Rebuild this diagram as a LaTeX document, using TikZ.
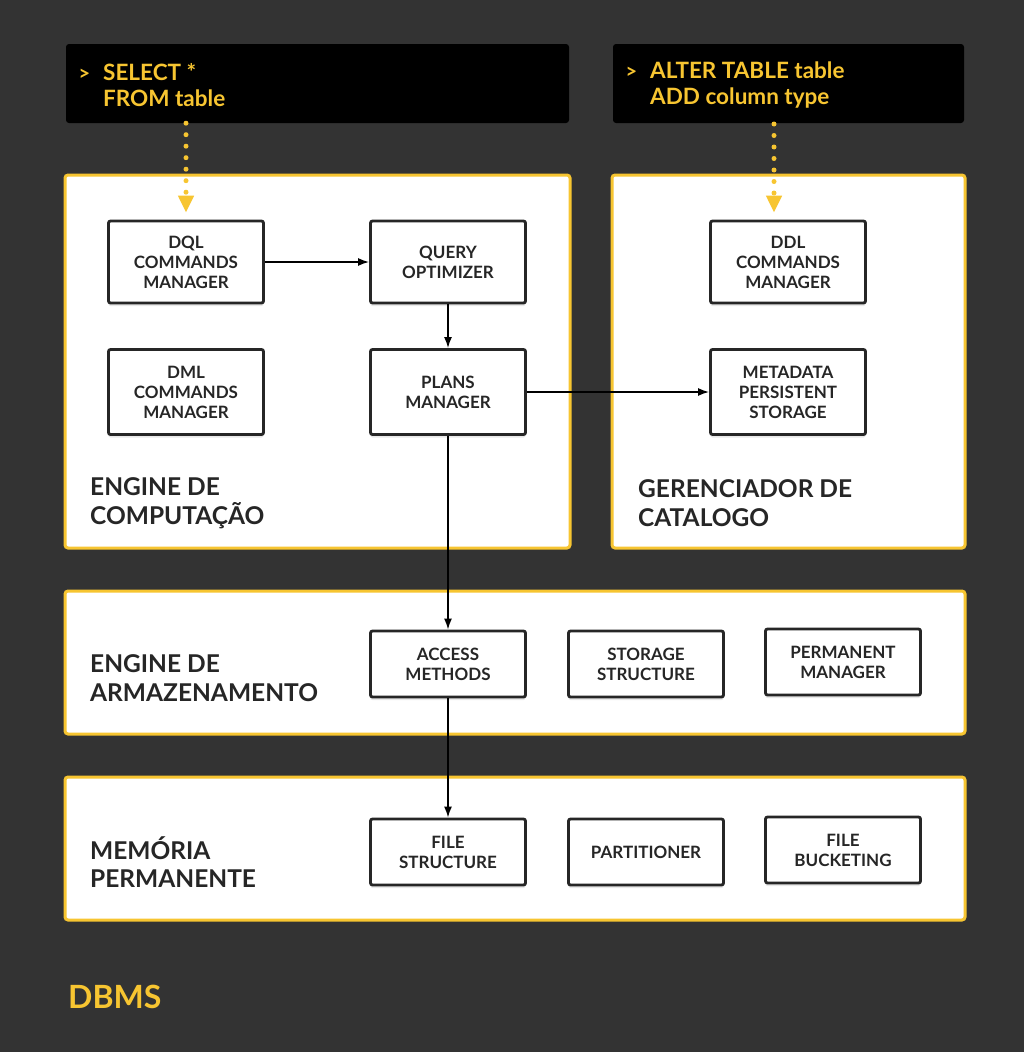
\documentclass[tikz,border=0pt]{standalone}
\usepackage{fontspec}
\setmainfont{Lato}
\usetikzlibrary{arrows.meta,shadows}
\definecolor{fond}{HTML}{333333}
\definecolor{jaune}{HTML}{F7C531}
\definecolor{trait}{HTML}{262626}

\begin{document}
\begin{tikzpicture}[x=1pt,y=-1pt]
\tikzset{boite/.style={draw=trait, line width=2.8pt, rounded corners=2pt, fill=white, minimum width=155pt, minimum height=82pt, align=center, inner sep=0pt, text=trait, font=\bfseries\fontsize{17}{20}\selectfont, drop shadow={opacity=0.18, shadow xshift=0pt, shadow yshift=-3pt}}}
\tikzset{cadre/.style={draw=jaune, line width=3pt, rounded corners=3pt, fill=white}}
\tikzset{code/.style={fill=black, rounded corners=3pt, inner sep=0pt}}
\tikzset{codetxt/.style={anchor=west, align=left, inner sep=0pt, text=jaune, font=\bfseries\fontsize{22.5}{26}\selectfont}}
\tikzset{titre/.style={anchor=west, align=left, inner sep=0pt, text=trait, font=\bfseries\fontsize{24.5}{28.5}\selectfont}}
\tikzset{fleche/.style={-{Latex[length=11pt,width=8pt]}, line width=1.6pt, draw=black}}
\tikzset{pointille/.style={jaune, line width=5pt, line cap=round, dash pattern=on 0pt off 11.5pt, -{Triangle[length=17pt,width=15pt]}}}
\useasboundingbox (0,0) rectangle (1024,1052);
\fill[fond] (0,0) rectangle (1024,1052);
% commandes
\node[code, minimum width=503pt, minimum height=79pt] (C1) at (317.5,83.5) {};
\node[code, minimum width=351pt, minimum height=79pt] (C2) at (788.5,83.5) {};
\node[codetxt] (S1) at (103,85) {\llap{\fontsize{20}{20}\selectfont>\hspace{13pt}}SELECT *\\FROM table};
\node[codetxt] (S2) at (650,85) {\llap{\fontsize{20}{20}\selectfont>\hspace{13pt}}ALTER TABLE table\\ADD column type};
% cadres
\node[cadre, minimum width=505pt, minimum height=373pt] (EC) at (317.5,361.5) {};
\node[cadre, minimum width=353pt, minimum height=373pt] (GC) at (788.5,361.5) {};
\node[cadre, minimum width=900pt, minimum height=143pt] (EA) at (515,662.5) {};
\node[cadre, minimum width=900pt, minimum height=143pt] (MP) at (515,848.5) {};
\node[titre] (T1) at (90,503) {ENGINE DE\\COMPUTAÇÃO};
\node[titre] (T2) at (638,503) {GERENCIADOR DE\\CATALOGO};
\node[titre] (T3) at (90,678) {ENGINE DE\\ARMAZENAMENTO};
\node[titre] (T4) at (90,862) {MEMÓRIA\\PERMANENTE};
% boites
\node[boite] (DQL) at (186,262) {DQL\\COMMANDS\\MANAGER};
\node[boite] (QO) at (448,262) {QUERY\\OPTIMIZER};
\node[boite, minimum height=85pt] (DML) at (186,392) {DML\\COMMANDS\\MANAGER};
\node[boite, minimum height=85pt] (PM) at (448,392) {PLANS\\MANAGER};
\node[boite] (DDL) at (788,262) {DDL\\COMMANDS\\MANAGER};
\node[boite, minimum height=85pt] (MD) at (788,392) {METADATA\\PERSISTENT\\STORAGE};
\node[boite, minimum height=66pt] (AM) at (448,664) {ACCESS\\METHODS};
\node[boite, minimum height=66pt] (SS) at (646,664) {STORAGE\\STRUCTURE};
\node[boite, minimum height=66pt] (PE) at (843,662) {PERMANENT\\MANAGER};
\node[boite, minimum height=66pt] (FS) at (448,852) {FILE\\STRUCTURE};
\node[boite, minimum height=66pt] (PA) at (646,852) {PARTITIONER};
\node[boite, minimum height=66pt] (FB) at (843,850) {FILE\\BUCKETING};
\node[anchor=west, inner sep=0pt, text=jaune, font=\bfseries\fontsize{32}{36}\selectfont] (DB) at (68,997) {DBMS};
% liens
\coordinate (E2) at (774,124);
\draw[pointille, shorten >=7pt] (C1.south -| DQL) -- (DQL.north);
\draw[pointille, shorten >=7pt] (E2) -- (DDL.north -| E2);
\draw[fleche] (DQL) -- (QO);
\draw[fleche] (QO) -- (PM);
\draw[fleche] (PM) -- (MD);
\draw[fleche] (PM) -- (AM);
\draw[fleche] (AM) -- (FS);
\end{tikzpicture}
\end{document}
